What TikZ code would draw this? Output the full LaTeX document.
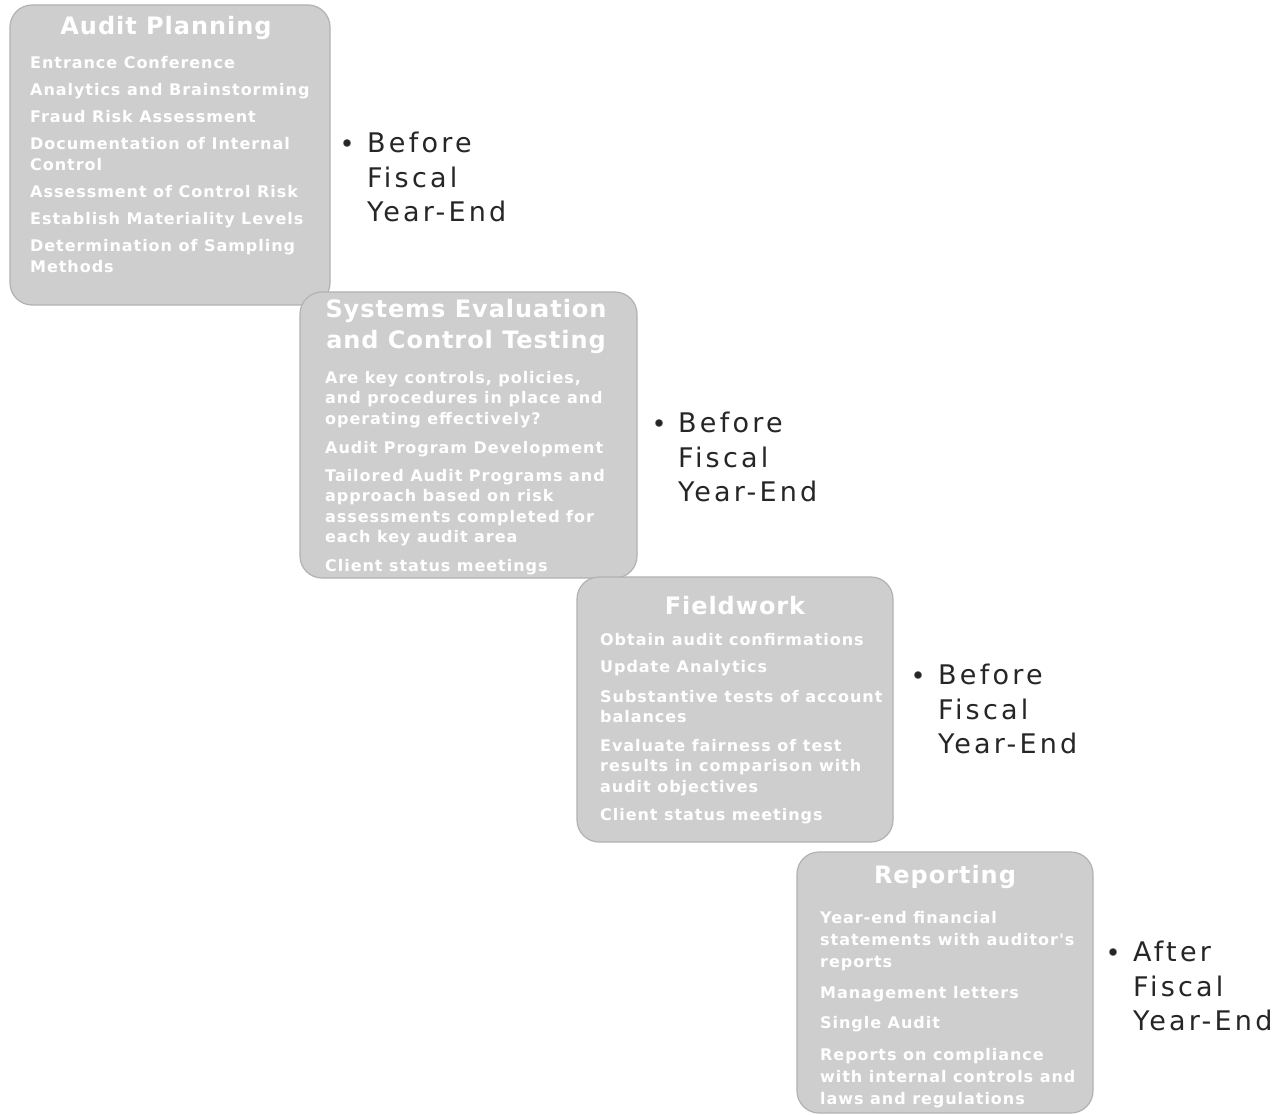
\documentclass[tikz,border=0pt]{standalone}
\usepackage{fontspec}
\setmainfont{DejaVu Sans}
\newfontfamily\bodyf[LetterSpace=6]{DejaVu Sans}
\newfontfamily\ttlf[LetterSpace=4]{DejaVu Sans}
\newfontfamily\lblf[LetterSpace=12]{DejaVu Sans}
\definecolor{boxgray}{RGB}{206,206,206}
\definecolor{boxedge}{RGB}{178,178,178}
\begin{document}
\begin{tikzpicture}[x=1pt,y=-1pt,
  box/.style={draw=boxedge, line width=1.2pt, fill=boxgray, rounded corners=22pt, inner sep=0pt},
  ttl/.style={text=white, font=\ttlf\bfseries\fontsize{24}{31}\selectfont, align=center, inner sep=0pt},
  body/.style={text=white, font=\bodyf\bfseries\fontsize{16}{21}\selectfont, align=left, inner sep=0pt, anchor=north west},
  lbl/.style={text=black!85, font=\lblf\fontsize{27}{34.5}\selectfont, align=left, inner sep=0pt, anchor=north west},
  dot/.style={circle, fill=black!85, draw=gray, inner sep=0pt, minimum size=7.5pt}]
\useasboundingbox (0,0) rectangle (1283,1115);
\fill[white] (0,0) rectangle (1283,1115);
% boxes
\node[box, minimum width=320pt, minimum height=300pt] (b1) at (170,155) {};
\node[box, minimum width=337pt, minimum height=286pt] (b2) at (468.5,435) {};
\node[box, minimum width=316pt, minimum height=265pt] (b3) at (735,709.5) {};
\node[box, minimum width=296pt, minimum height=261pt] (b4) at (945,982.5) {};
% titles
\node[ttl] (t1) at (166,28) {Audit Planning};
\node[ttl] (t2) at (466,326) {Systems Evaluation\\and Control Testing};
\node[ttl] (t3) at (735,606) {Fieldwork};
\node[ttl] (t4) at (945,877) {Reporting};
% bodies
\node[body] (c1) at (30,56) {Entrance Conference\\[6pt]Analytics and Brainstorming\\[6pt]Fraud Risk Assessment\\[6pt]Documentation of Internal\\Control\\[6pt]Assessment of Control Risk\\[6pt]Establish Materiality Levels\\[6pt]Determination of Sampling\\Methods};
\node[body, font=\bodyf\bfseries\fontsize{16}{20.5}\selectfont] (c2) at (325,371) {Are key controls, policies,\\and procedures in place and\\operating effectively?\\[8.5pt]Audit Program Development\\[7.5pt]Tailored Audit Programs and\\approach based on risk\\assessments completed for\\each key audit area\\[8pt]Client status meetings};
\node[body, font=\bodyf\bfseries\fontsize{16}{20.5}\selectfont] (c3) at (600,633) {Obtain audit confirmations\\[7pt]Update Analytics\\[9pt]Substantive tests of account\\balances\\[8pt]Evaluate fairness of test\\results in comparison with\\audit objectives\\[8pt]Client status meetings};
\node[body, font=\bodyf\bfseries\fontsize{16}{22}\selectfont] (c4) at (820,911) {Year-end financial\\statements with auditor's\\reports\\[9pt]Management letters\\[8pt]Single Audit\\[10pt]Reports on compliance\\with internal controls and\\laws and regulations};
% labels
\node[lbl] (l1) at (367,132) {Before\\Fiscal\\Year-End};
\node[dot] (d1) at (347,143) {};
\node[lbl] (l2) at (678,412) {Before\\Fiscal\\Year-End};
\node[dot] (d2) at (659,423) {};
\node[lbl] (l3) at (938,664) {Before\\Fiscal\\Year-End};
\node[dot] (d3) at (918,675) {};
\node[lbl] (l4) at (1133,941) {After\\Fiscal\\Year-End};
\node[dot] (d4) at (1113,952) {};
\end{tikzpicture}
\end{document}
